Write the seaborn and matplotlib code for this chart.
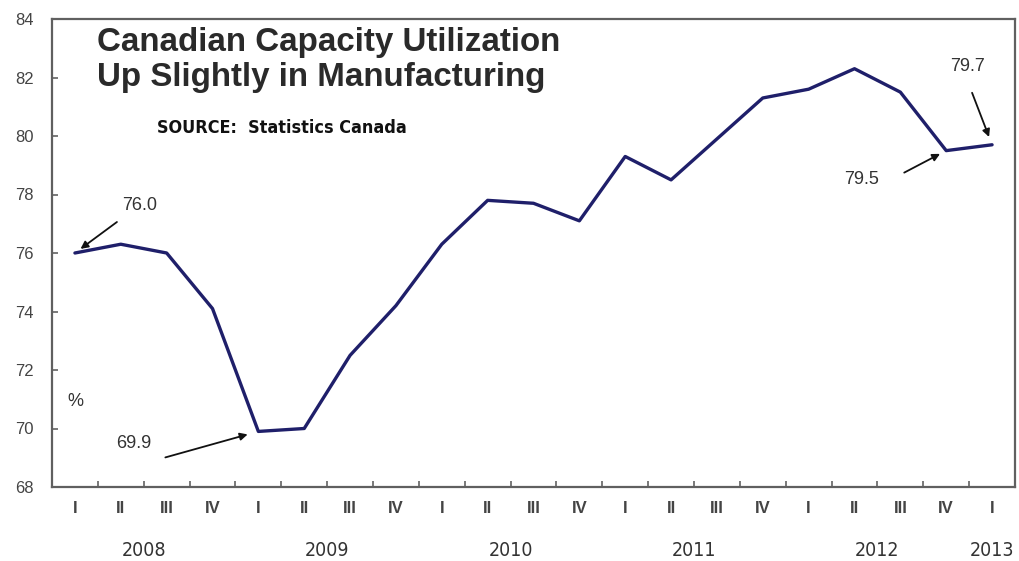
import numpy as np
import pandas as pd
import matplotlib
matplotlib.use("Agg")
import matplotlib.pyplot as plt
from matplotlib import font_manager as fm
from matplotlib.transforms import blended_transform_factory
import seaborn as sns

# ---- data ----
quarters = ["I", "II", "III", "IV"] * 5 + ["I"]
years = [2008] * 4 + [2009] * 4 + [2010] * 4 + [2011] * 4 + [2012] * 4 + [2013]
utilization = [76.0, 76.3, 76.0, 74.1, 69.9, 70.0, 72.5, 74.2, 76.3, 77.8, 77.7,
               77.1, 79.3, 78.5, 79.9, 81.3, 81.6, 82.3, 81.5, 79.5, 79.7]
title_lines = ["Canadian Capacity Utilization", "Up Slightly in Manufacturing"]
source_text = "SOURCE:  Statistics Canada"
y_ticks = [68, 70, 72, 74, 76, 78, 80, 82, 84]
callout_idx = [0, 4, 19, 20]

df = pd.DataFrame({"idx": np.arange(len(utilization)), "value": utilization,
                   "quarter": quarters, "year": years})

sns.set_style("white")
names = {f.name for f in fm.fontManager.ttflist}
base = "Liberation Sans" if "Liberation Sans" in names else "DejaVu Sans"
plt.rcParams["font.family"] = [base, "DejaVu Sans"]


def find_condensed(bold):
    prefs = ["LiberationSansNarrow-Bold", "DejaVuSansCondensed-Bold",
             "RobotoCondensed-Bold", "OpenSans_Condensed-Bold",
             "OpenSansCondensed-Bold"] if bold else \
            ["LiberationSansNarrow-Regular", "DejaVuSansCondensed.",
             "RobotoCondensed-Regular"]
    files = [f.fname for f in fm.fontManager.ttflist]
    for p in prefs:
        for fn in files:
            if p in fn.replace(" ", ""):
                return fm.FontProperties(fname=fn)
    return fm.FontProperties(family=base, weight="bold" if bold else "normal")


cond_bold = find_condensed(True)
cond_reg = find_condensed(False)

W, H = 1020, 561
fig = plt.figure(figsize=(W / 100, H / 100), dpi=100)
fig.patch.set_facecolor("white")
ax = fig.add_axes([52 / W, 1 - 487 / H, (1015 - 52) / W, (487 - 19) / H])

sns.lineplot(data=df, x="idx", y="value", ax=ax, color="#1f1f6a",
             linewidth=2.4, legend=False)

ax.set_xlim(-0.5, len(utilization) - 0.5)
ax.set_ylim(y_ticks[0], y_ticks[-1])
ax.set_yticks(y_ticks)
ax.set_yticklabels([str(t) for t in y_ticks])
ax.set_xlabel("")
ax.set_ylabel("")

# quarter labels at the points, tick marks at the boundaries
ax.set_xticks(df["idx"])
ax.set_xticklabels(quarters)
ax.set_xticks(np.arange(-0.5, len(utilization) + 0.5, 1.0), minor=True)
ax.tick_params(axis="x", which="major", length=0, pad=10, labelsize=12,
               labelcolor="#444444")
for lab in ax.get_xticklabels():
    lab.set_fontweight("bold")
ax.tick_params(axis="x", which="minor", direction="in", length=4, width=1.1,
               color="#555555", bottom=True)
ax.tick_params(axis="y", which="major", direction="in", length=4, width=1.1,
               color="#555555", pad=13, labelsize=12, labelcolor="#444444",
               left=True)

for s in ax.spines.values():
    s.set_visible(True)
    s.set_color("#606060")
    s.set_linewidth(1.6)
ax.grid(False)

# year labels centred under their quarters
trans = blended_transform_factory(ax.transData, fig.transFigure)
for yr, grp in df.groupby("year"):
    ax.text(grp["idx"].mean(), 1 - 550 / H, str(yr), transform=trans,
            ha="center", va="center", fontproperties=cond_reg,
            fontsize=14, color="#333333")

# callouts
offsets = {0: ((42, 31), (65, 48), 5),
           4: ((-93, -26), (-125, -12), 8),
           19: ((-42, -22), (-85, -29), 5),
           20: ((-20, 52), (-25, 78), 6)}
for i in callout_idx:
    tail, txt, shrink = offsets[i]
    v = utilization[i]
    ax.annotate("", xy=(i, v), xycoords="data", xytext=tail,
                textcoords="offset pixels",
                arrowprops=dict(arrowstyle="-|>", color="#111111", lw=1.3,
                                shrinkA=0, shrinkB=shrink, mutation_scale=11))
    ax.annotate(f"{v:.1f}", xy=(i, v), xycoords="data", xytext=txt,
                textcoords="offset pixels", ha="center", va="center",
                fontsize=13, color="#333333")

ax.text(75 / W, 1 - 402 / H, "%", transform=fig.transFigure, ha="center",
        va="center", fontsize=13, color="#333333")

# titles
t1 = fig.text(97 / W, 1 - 51 / H, title_lines[0], ha="left", va="baseline",
              fontsize=23, fontweight="bold", color="#2a2a2a")
t2 = fig.text(97 / W, 1 - 86 / H, title_lines[1], ha="left", va="baseline",
              fontsize=23, fontweight="bold", color="#2a2a2a")
src = fig.text(157 / W, 1 - 133 / H, source_text, ha="left", va="baseline",
               fontproperties=cond_bold, fontsize=15, color="#111111")

fig.canvas.draw()
r = fig.canvas.get_renderer()
w1 = t1.get_window_extent(r).width
fs = 23 * 463 / w1
t1.set_fontsize(fs)
t2.set_fontsize(fs)
ws = src.get_window_extent(r).width
src.set_fontsize(min(16.5, 15 * 250 / ws))

fig.savefig("out.png", dpi=100, facecolor="white")
